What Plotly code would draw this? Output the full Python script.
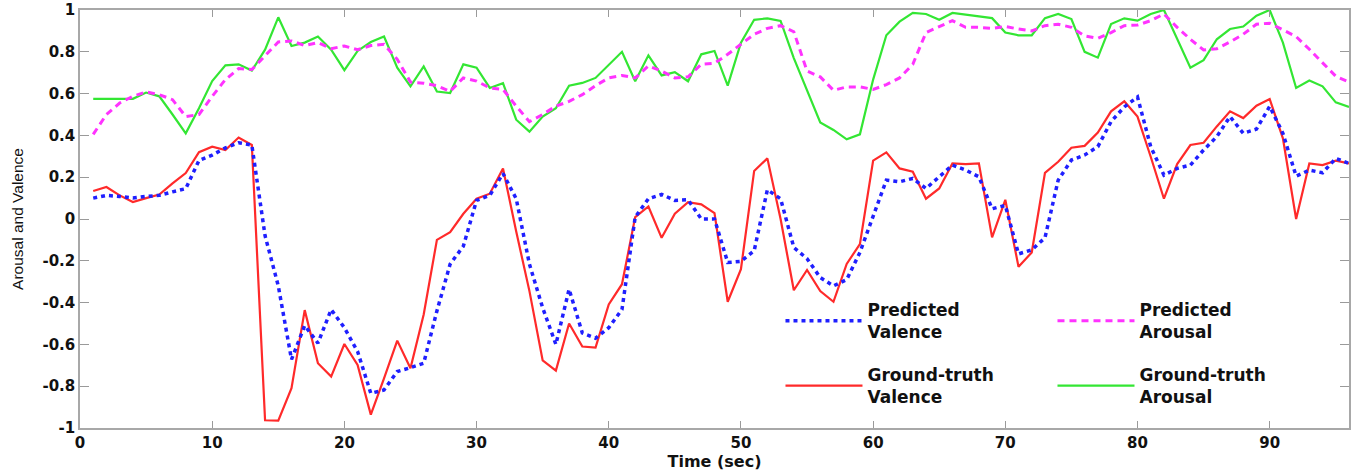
import plotly.graph_objects as go

time_sec = list(range(1, 97))

gt_arousal = [0.575, 0.575, 0.575, 0.575, 0.605, 0.587, 0.50, 0.41, 0.53, 0.66,
              0.735, 0.74, 0.71, 0.81, 0.965, 0.828, 0.844, 0.873, 0.81, 0.712,
              0.804, 0.847, 0.873, 0.724, 0.635, 0.73, 0.61, 0.603, 0.74, 0.724,
              0.627, 0.65, 0.475, 0.418, 0.49, 0.53, 0.638, 0.651, 0.675, 0.74,
              0.80, 0.659, 0.783, 0.687, 0.703, 0.659, 0.788, 0.804, 0.638, 0.844,
              0.953, 0.96, 0.948, 0.77, 0.62, 0.462, 0.426, 0.381, 0.405, 0.667,
              0.879, 0.944, 0.986, 0.981, 0.953, 0.986, 0.978, 0.97, 0.961, 0.892,
              0.879, 0.879, 0.961, 0.981, 0.957, 0.80, 0.772, 0.933, 0.96, 0.949,
              0.981, 1.0, 0.864, 0.724, 0.76, 0.86, 0.909, 0.921, 0.973, 1.0,
              0.844, 0.627, 0.663, 0.635, 0.558, 0.536]

pred_arousal = [0.405, 0.50, 0.555, 0.587, 0.608, 0.595, 0.571, 0.49, 0.50, 0.587,
                0.667, 0.72, 0.715, 0.78, 0.847, 0.852, 0.83, 0.844, 0.815, 0.828,
                0.81, 0.83, 0.836, 0.764, 0.655, 0.65, 0.638, 0.611, 0.675, 0.66,
                0.627, 0.62, 0.54, 0.466, 0.50, 0.54, 0.563, 0.595, 0.638, 0.675,
                0.687, 0.675, 0.732, 0.708, 0.675, 0.68, 0.74, 0.745, 0.788, 0.836,
                0.884, 0.912, 0.925, 0.896, 0.708, 0.68, 0.616, 0.632, 0.632, 0.62,
                0.643, 0.675, 0.74, 0.892, 0.92, 0.949, 0.917, 0.917, 0.912, 0.921,
                0.909, 0.90, 0.925, 0.932, 0.917, 0.876, 0.864, 0.892, 0.925, 0.928,
                0.949, 0.981, 0.917, 0.86, 0.809, 0.815, 0.847, 0.884, 0.932, 0.937,
                0.905, 0.873, 0.812, 0.748, 0.683, 0.655]

gt_valence = [0.134, 0.153, 0.113, 0.081, 0.10, 0.117, 0.17, 0.22, 0.32, 0.346,
              0.33, 0.39, 0.354, -0.963, -0.965, -0.81, -0.436, -0.69, -0.754, -0.598,
              -0.698, -0.936, -0.762, -0.582, -0.714, -0.457, -0.10, -0.063, 0.025, 0.097,
              0.121, 0.242, -0.06, -0.345, -0.677, -0.725, -0.50, -0.61, -0.615, -0.409,
              -0.312, 0.009, 0.06, -0.09, 0.025, 0.081, 0.07, 0.028, -0.396, -0.24,
              0.23, 0.29, 0.0, -0.341, -0.244, -0.345, -0.396, -0.215, -0.12, 0.279,
              0.319, 0.242, 0.226, 0.097, 0.146, 0.266, 0.263, 0.266, -0.088, 0.092,
              -0.229, -0.16, 0.221, 0.274, 0.341, 0.35, 0.414, 0.515, 0.563, 0.49,
              0.298, 0.097, 0.263, 0.354, 0.365, 0.443, 0.515, 0.483, 0.542, 0.574,
              0.386, 0.0, 0.266, 0.258, 0.279, 0.266]

pred_valence = [0.10, 0.113, 0.108, 0.10, 0.108, 0.113, 0.13, 0.145, 0.28, 0.306,
                0.34, 0.365, 0.354, -0.08, -0.32, -0.672, -0.51, -0.594, -0.433, -0.52,
                -0.634, -0.834, -0.818, -0.73, -0.711, -0.69, -0.44, -0.216, -0.13, 0.089,
                0.113, 0.218, 0.097, -0.216, -0.425, -0.60, -0.336, -0.545, -0.57, -0.52,
                -0.433, 0.009, 0.097, 0.118, 0.089, 0.092, 0.0, 0.0, -0.208, -0.203,
                -0.152, 0.14, 0.097, -0.136, -0.19, -0.28, -0.32, -0.29, -0.16, 0.01,
                0.186, 0.178, 0.194, 0.146, 0.202, 0.258, 0.234, 0.202, 0.049, 0.065,
                -0.167, -0.148, -0.09, 0.186, 0.282, 0.306, 0.346, 0.466, 0.536, 0.584,
                0.346, 0.21, 0.242, 0.258, 0.33, 0.394, 0.49, 0.41, 0.43, 0.539,
                0.41, 0.205, 0.234, 0.221, 0.29, 0.266]

x_ticks = [0, 10, 20, 30, 40, 50, 60, 70, 80, 90]
y_ticks = [-1, -0.8, -0.6, -0.4, -0.2, 0, 0.2, 0.4, 0.6, 0.8, 1]
y_tick_text = ["-1", "-0.8", "-0.6", "-0.4", "-0.2", "0", "0.2", "0.4", "0.6", "0.8", "1"]

fig = go.Figure()

fig.add_trace(go.Scatter(x=time_sec, y=gt_arousal, mode="lines",
                         name="Ground-truth<br>Arousal", legend="legend2",
                         line=dict(color="#33e633", width=2.2)))
fig.add_trace(go.Scatter(x=time_sec, y=pred_arousal, mode="lines",
                         name="Predicted<br>Arousal", legend="legend",
                         line=dict(color="#ff33ff", width=3, dash="7px,5px")))
fig.add_trace(go.Scatter(x=time_sec, y=gt_valence, mode="lines",
                         name="Ground-truth<br>Valence", legend="legend2",
                         line=dict(color="#ff2a2a", width=2.2)))
fig.add_trace(go.Scatter(x=time_sec, y=pred_valence, mode="lines",
                         name="Predicted<br>Valence", legend="legend",
                         line=dict(color="#1f1fff", width=3.5, dash="4px,4px")))

legend_font = dict(family="DejaVu Sans", size=17, color="#111111", weight="bold")

fig.update_layout(
    width=1359, height=471,
    margin=dict(l=80, r=10, t=10, b=43, autoexpand=False),
    paper_bgcolor="white", plot_bgcolor="white",
    showlegend=True,
    legend=dict(orientation="h", x=0.552, y=0.325, xanchor="left", yanchor="top",
                bgcolor="rgba(0,0,0,0)", font=legend_font, itemwidth=77,
                entrywidth=180, traceorder="reversed", valign="middle"),
    legend2=dict(orientation="h", x=0.552, y=0.17, xanchor="left", yanchor="top",
                 bgcolor="rgba(0,0,0,0)", font=legend_font, itemwidth=77,
                 entrywidth=180, traceorder="reversed", valign="middle"),
    xaxis=dict(range=[0, 96], tickvals=x_ticks, ticks="inside", ticklen=7,
               tickcolor="#9a9a9a", showline=True, linecolor="#a8a8a8", linewidth=1.5,
               mirror="ticks", showgrid=False, zeroline=False, automargin=False,
               tickfont=dict(family="DejaVu Sans", size=15, color="#111111", weight="bold"),
               title=dict(text="Time (sec)", standoff=0,
                          font=dict(family="DejaVu Sans", size=16, color="#111111", weight="bold"))),
    yaxis=dict(range=[-1, 1], tickvals=y_ticks, ticktext=y_tick_text, ticks="inside",
               ticklen=9, tickcolor="#9a9a9a", showline=True, linecolor="#a8a8a8",
               linewidth=1.5, mirror="ticks", showgrid=False, zeroline=False,
               ticklabelstandoff=0, automargin=False,
               tickfont=dict(family="DejaVu Sans", size=15, color="#111111", weight="bold"),
               title=dict(text="Arousal and Valence", standoff=15,
                          font=dict(family="Liberation Sans", size=15.5, color="#111111"))),
)

fig.write_html("out.html", config={"displayModeBar": False},
               post_script="document.body.style.margin='0px';")
